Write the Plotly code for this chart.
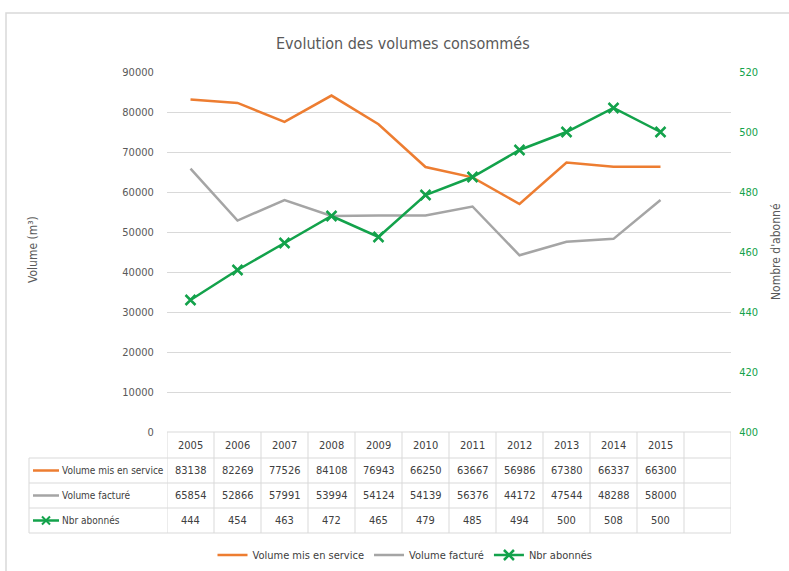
import plotly.graph_objects as go

years = ["2005", "2006", "2007", "2008", "2009", "2010", "2011", "2012", "2013", "2014", "2015"]
vol_service = [83138, 82269, 77526, 84108, 76943, 66250, 63667, 56986, 67380, 66337, 66300]
vol_facture = [65854, 52866, 57991, 53994, 54124, 54139, 56376, 44172, 47544, 48288, 58000]
nbr_abonnes = [444, 454, 463, 472, 465, 479, 485, 494, 500, 508, 500]
series_names = ["Volume mis en service", "Volume facturé", "Nbr abonnés"]

ORANGE = "#ED7D31"
GRAY = "#A5A5A5"
GREEN = "#13A24B"
TXT = "#595959"
GRID = "#D9D9D9"
FONT = "DejaVu Sans Condensed, Roboto, Liberation Sans, sans-serif"

W, H = 789, 571
L, R, T, B = 167, 731, 72, 432  # plot area in pixels
n_cat = len(years) + 1  # one empty category, as in the original


def px(x):
    return (x - L) / (R - L)


def py(y):
    return (B - y) / (B - T)


xs = list(range(len(years)))

fig = go.Figure()
fig.add_trace(go.Scatter(x=xs, y=vol_service, name=series_names[0], mode="lines",
                         line=dict(color=ORANGE, width=2.5), yaxis="y"))
fig.add_trace(go.Scatter(x=xs, y=vol_facture, name=series_names[1], mode="lines",
                         line=dict(color=GRAY, width=2.5), yaxis="y"))
fig.add_trace(go.Scatter(x=xs, y=nbr_abonnes, name=series_names[2], mode="lines+markers",
                         line=dict(color=GREEN, width=2.5),
                         marker=dict(symbol="x-thin-open", size=10, color=GREEN,
                                     line=dict(color=GREEN, width=2.5)),
                         yaxis="y2"))

shapes = []
annotations = []

# outer frame
shapes.append(dict(type="rect", xref="paper", yref="paper", x0=px(6), x1=px(820),
                   y0=py(13), y1=py(600), line=dict(color=GRID, width=1.5)))

# data table grid
rows_y = [432, 458, 483, 508, 533]
line_style = dict(color=GRID, width=1)
shapes.append(dict(type="line", xref="paper", yref="paper", x0=0, x1=1,
                   y0=py(rows_y[0]), y1=py(rows_y[0]), line=line_style))
for yy in rows_y[1:]:
    shapes.append(dict(type="line", xref="paper", yref="paper", x0=px(29), x1=1,
                       y0=py(yy), y1=py(yy), line=line_style))
shapes.append(dict(type="line", xref="paper", yref="paper", x0=px(29), x1=px(29),
                   y0=py(rows_y[1]), y1=py(rows_y[-1]), line=line_style))
for i in range(n_cat + 1):
    shapes.append(dict(type="line", xref="x", yref="paper", x0=i - 0.5, x1=i - 0.5,
                       y0=py(rows_y[0]), y1=py(rows_y[-1]), line=line_style))

row_centers = [(rows_y[k] + rows_y[k + 1]) / 2 for k in range(4)]
cell_font = dict(family=FONT, size=11, color="#404040")
label_font = dict(family=FONT, size=10, color="#404040")
for i, yr in enumerate(years):
    annotations.append(dict(x=i, y=py(row_centers[0]), xref="x", yref="paper", text=yr,
                            showarrow=False, font=cell_font, xanchor="center", yanchor="middle"))
    for k, vals in enumerate([vol_service, vol_facture, nbr_abonnes]):
        annotations.append(dict(x=i, y=py(row_centers[k + 1]), xref="x", yref="paper",
                                text=str(vals[i]), showarrow=False, font=cell_font,
                                xanchor="center", yanchor="middle"))

# row labels with legend keys
for k, (name, col) in enumerate(zip(series_names, [ORANGE, GRAY, GREEN])):
    yc = py(row_centers[k + 1])
    shapes.append(dict(type="line", xref="paper", yref="paper", x0=px(33), x1=px(59),
                       y0=yc, y1=yc, line=dict(color=col, width=2.5)))
    annotations.append(dict(x=px(60), y=yc, xref="paper", yref="paper", text=name,
                            showarrow=False, xanchor="left", yanchor="middle", font=label_font))
# x marker on the green key
yc = row_centers[3]
for (a, b) in [((42, yc - 4), (50, yc + 4)), ((42, yc + 4), (50, yc - 4))]:
    shapes.append(dict(type="line", xref="paper", yref="paper", x0=px(a[0]), x1=px(b[0]),
                       y0=py(a[1]), y1=py(b[1]), line=dict(color=GREEN, width=2)))

# title & axis titles
annotations.append(dict(x=px(403), y=py(43), xref="paper", yref="paper",
                        text="Evolution des volumes consommés", showarrow=False,
                        xanchor="center", yanchor="middle",
                        font=dict(family=FONT, size=16, color=TXT)))
annotations.append(dict(x=px(33), y=py(250), xref="paper", yref="paper", text="Volume (m³)",
                        textangle=-90, showarrow=False, xanchor="center", yanchor="middle",
                        font=dict(family=FONT, size=12, color=TXT)))
annotations.append(dict(x=px(776), y=py(252), xref="paper", yref="paper", text="Nombre d'abonné",
                        textangle=-90, showarrow=False, xanchor="center", yanchor="middle",
                        font=dict(family=FONT, size=12, color=TXT)))

fig.update_layout(
    width=W, height=H, autosize=False,
    margin=dict(l=L, r=W - R, t=T, b=H - B, pad=0, autoexpand=False),
    paper_bgcolor="white", plot_bgcolor="white",
    font=dict(family=FONT, color=TXT),
    showlegend=True,
    legend=dict(orientation="h", x=px(405), xanchor="center", y=py(555), yanchor="middle",
                font=dict(family=FONT, size=11, color="#404040"), itemwidth=30,
                tracegroupgap=0, bgcolor="rgba(0,0,0,0)"),
    xaxis=dict(range=[-0.5, n_cat - 0.5], showgrid=False, zeroline=False, automargin=False,
               showticklabels=False, showline=False, fixedrange=True),
    yaxis=dict(range=[0, 90000], dtick=10000, tickformat="d", showgrid=True, gridcolor=GRID,
               gridwidth=1, zeroline=False, showline=False, ticks="outside", ticklen=10,
               automargin=False,
               tickcolor="rgba(0,0,0,0)", tickfont=dict(family=FONT, size=11, color=TXT)),
    yaxis2=dict(range=[400, 520], dtick=20, tickformat="d", overlaying="y", side="right",
                showgrid=False, zeroline=False, showline=False, ticks="outside", ticklen=5,
                automargin=False,
                tickcolor="rgba(0,0,0,0)", tickfont=dict(family=FONT, size=11, color=GREEN)),
    shapes=shapes,
    annotations=annotations,
)

fig.write_html("out.html", config={"displayModeBar": False},
               post_script="document.body.style.margin='0';document.body.style.overflow='hidden';")
